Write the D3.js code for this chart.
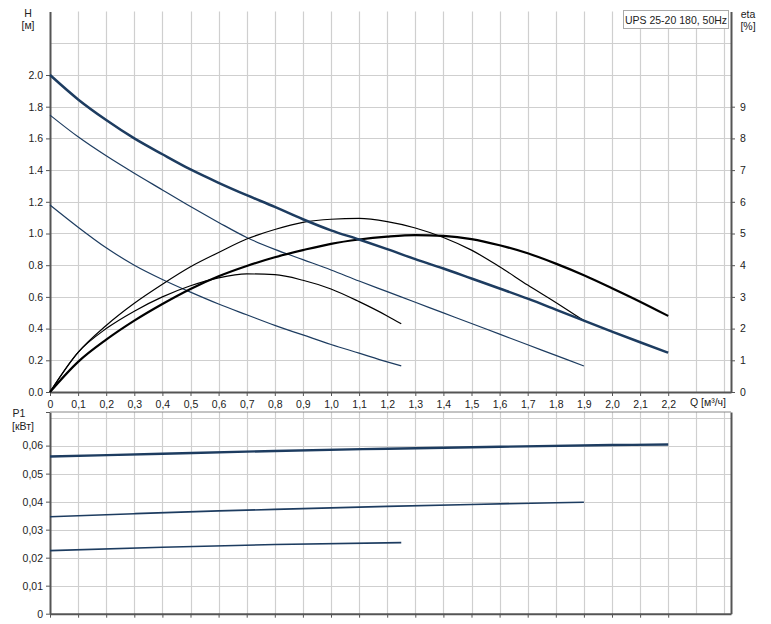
<!DOCTYPE html>
<html><head><meta charset="utf-8">
<script src="https://cdn.jsdelivr.net/npm/d3@7"></script>
<style>
html,body{margin:0;padding:0;background:#fff;}
svg{display:block;font-family:"Liberation Sans",Arial,sans-serif;}
</style></head>
<body><svg id="c" width="771" height="624"></svg>
<script>
// ---- data ----
const q3 = [0,0.1,0.2,0.3,0.4,0.5,0.6,0.7,0.8,0.9,1.0,1.1,1.2,1.3,1.4,1.5,1.6,1.7,1.8,1.9,2.0,2.1,2.2];
const q2 = [0,0.1,0.2,0.3,0.4,0.5,0.6,0.7,0.8,0.9,1.0,1.1,1.2,1.3,1.4,1.5,1.6,1.7,1.8,1.9];
const q1 = [0,0.1,0.2,0.3,0.4,0.5,0.6,0.7,0.8,0.9,1.0,1.1,1.2,1.25];
// head [m]
const head3 = [2.0,1.846,1.716,1.60,1.50,1.404,1.32,1.242,1.168,1.09,1.02,0.962,0.901,0.838,0.779,0.716,0.653,0.589,0.520,0.450,0.381,0.314,0.248];
const head2 = [1.747,1.61,1.49,1.38,1.275,1.17,1.07,0.975,0.90,0.835,0.77,0.70,0.633,0.566,0.499,0.432,0.365,0.298,0.231,0.164];
const head1 = [1.18,1.04,0.91,0.80,0.71,0.63,0.555,0.487,0.42,0.36,0.30,0.245,0.19,0.165];
// efficiency [%]
const eta3 = [0,0.95,1.65,2.25,2.775,3.25,3.65,3.975,4.25,4.475,4.675,4.81,4.9,4.95,4.925,4.825,4.63,4.375,4.05,3.685,3.275,2.85,2.4];
const eta2 = [0,1.25,2.1,2.8,3.4,3.95,4.4,4.825,5.125,5.35,5.45,5.475,5.375,5.175,4.875,4.475,3.95,3.375,2.825,2.25];
const eta1 = [0,1.25,2.0,2.55,3.0,3.35,3.6,3.725,3.7,3.525,3.25,2.85,2.4,2.15];
// power P1 [kW]
const pq3 = [0,0.4,0.8,1.2,1.6,2.0,2.2];
const p3 = [0.0561,0.0571,0.0581,0.0589,0.0596,0.0602,0.0604];
const pq2 = [0,0.3,0.6,0.9,1.2,1.5,1.9];
const p2 = [0.0346,0.0357,0.0367,0.0375,0.0383,0.0390,0.0398];
const pq1 = [0,0.4,0.8,1.25];
const p1 = [0.0225,0.0237,0.0247,0.02536];
// ticks
const qTicks = [0,0.1,0.2,0.3,0.4,0.5,0.6,0.7,0.8,0.9,1.0,1.1,1.2,1.3,1.4,1.5,1.6,1.7,1.8,1.9,2.0,2.1,2.2];
const qGrid = [0.1,0.2,0.3,0.4,0.5,0.6,0.7,0.8,0.9,1.0,1.1,1.2,1.3,1.4,1.5,1.6,1.7,1.8,1.9,2.0,2.1,2.2,2.3,2.4];
const hTicks = [0,0.2,0.4,0.6,0.8,1.0,1.2,1.4,1.6,1.8,2.0];
const hGrid = [0.2,0.4,0.6,0.8,1.0,1.2,1.4,1.6,1.8,2.0,2.2];
const etaTicks = [0,1,2,3,4,5,6,7,8,9];
const pTicks = [0,0.01,0.02,0.03,0.04,0.05,0.06];
const pGrid = [0.01,0.02,0.03,0.04,0.05,0.06,0.07];
const title = "UPS 25-20 180, 50Hz";

// ---- layout ----
const svg = d3.select("#c");
const L = 50, R = 731;
const x = d3.scaleLinear().domain([0, (R-L)/281]).range([L, R]);
const yH = d3.scaleLinear().domain([0, 2.4]).range([392, 11.6]);
const yE = d3.scaleLinear().domain([0, 12]).range([392, 11.6]);
const yP = d3.scaleLinear().domain([0, 0.072]).range([613.7, 412]);
const gridC = "#cfcfcf", axisC = "#555", blue = "#1d3c60";
const fmtQ = d => d === 0 ? "0" : d3.format(".1f")(d).replace(".", ",");
const fmtP = d => d === 0 ? "0" : d3.format(".2f")(d).replace(".", ",");

function grid(yS, yVals, top, bottom) {
  const g = svg.append("g");
  g.selectAll(".v").data(qGrid).enter().append("line")
    .attr("x1", d => Math.round(x(d)) + 0.5).attr("x2", d => Math.round(x(d)) + 0.5)
    .attr("y1", top).attr("y2", bottom).attr("stroke", gridC).attr("stroke-width", 1.2);
  g.selectAll(".h").data(yVals).enter().append("line")
    .attr("x1", L).attr("x2", R)
    .attr("y1", d => Math.round(yS(d)) + 0.5).attr("y2", d => Math.round(yS(d)) + 0.5)
    .attr("stroke", gridC).attr("stroke-width", 1.2);
}
grid(yH, hGrid, 11.6, 392);
grid(yP, pGrid, 412, 613.7);

// axes top panel
const axL = svg.append("g").attr("transform", `translate(${L},0)`)
  .call(d3.axisLeft(yH).tickValues(hTicks).tickFormat(d3.format(".1f")).tickSize(4).tickSizeOuter(0));
const axR = svg.append("g").attr("transform", `translate(${R},0)`)
  .call(d3.axisRight(yE).tickValues(etaTicks).tickFormat(d3.format("d")).tickSize(4).tickSizeOuter(0));
const axB = svg.append("g").attr("transform", `translate(0,392)`)
  .call(d3.axisBottom(x).tickValues(qTicks).tickFormat(fmtQ).tickSize(4).tickSizeOuter(0));
// axes bottom panel
const axPL = svg.append("g").attr("transform", `translate(${L},0)`)
  .call(d3.axisLeft(yP).tickValues(pTicks.concat([0.072])).tickFormat(d => d > 0.07 ? "" : fmtP(d)).tickSize(4).tickSizeOuter(0));
const axPR = svg.append("g").attr("transform", `translate(${R},0)`)
  .call(d3.axisRight(yP).tickValues([]).tickSizeOuter(0));
const axPB = svg.append("g").attr("transform", `translate(0,613.7)`)
  .call(d3.axisBottom(x).tickValues(qTicks).tickFormat("").tickSize(4).tickSizeOuter(0));
// top border of lower panel
svg.append("line").attr("x1", L).attr("x2", R).attr("y1", 412).attr("y2", 412).attr("stroke", "#888").attr("stroke-width", 1);

[axL, axR, axB, axPL, axPR, axPB].forEach(a => {
  a.select(".domain").attr("stroke", axisC).attr("stroke-width", 2);
  a.selectAll(".tick line").attr("stroke", axisC);
  a.selectAll("text").attr("fill", "#222").attr("font-size", 10.5).attr("font-family", "Liberation Sans, Arial, sans-serif");
});
axB.selectAll("text").attr("dy", "0.9em");
axR.selectAll("text").attr("dx", "2");

// labels
const lab = (t, xx, yy, anchor) => svg.append("text").attr("x", xx).attr("y", yy)
  .attr("text-anchor", anchor || "middle").attr("font-size", 10.5).attr("fill", "#222").text(t);
lab("H", 28, 17); lab("[м]", 28, 29);
lab("eta", 748, 18); lab("[%]", 748, 30);
lab("P1", 19, 417); lab("[кВт]", 23, 430);
lab("Q [м³/ч]", 708, 406);

// legend box
svg.append("rect").attr("x", 623.5).attr("y", 10.5).attr("width", 105).attr("height", 18)
  .attr("fill", "#fff").attr("stroke", "#aaa");
lab(title, 676, 23.5);

// curves
const line = (ys) => d3.line().x(d => x(d[0])).y(d => ys(d[1])).curve(d3.curveMonotoneX);
function draw(qs, vs, ys, color, w) {
  svg.append("path").datum(qs.map((q, i) => [q, vs[i]]))
    .attr("d", line(ys)).attr("fill", "none").attr("stroke", color).attr("stroke-width", w)
    .attr("stroke-linejoin", "round");
}
draw(q1, head1, yH, blue, 1.2);
draw(q2, head2, yH, blue, 1.2);
draw(q1, eta1, yE, "#000", 1.2);
draw(q2, eta2, yE, "#000", 1.2);
draw(q3, eta3, yE, "#000", 2.2);
draw(q3, head3, yH, blue, 2.5);
draw(pq1, p1, yP, blue, 1.6);
draw(pq2, p2, yP, blue, 1.6);
draw(pq3, p3, yP, blue, 2.4);
</script></body></html>
